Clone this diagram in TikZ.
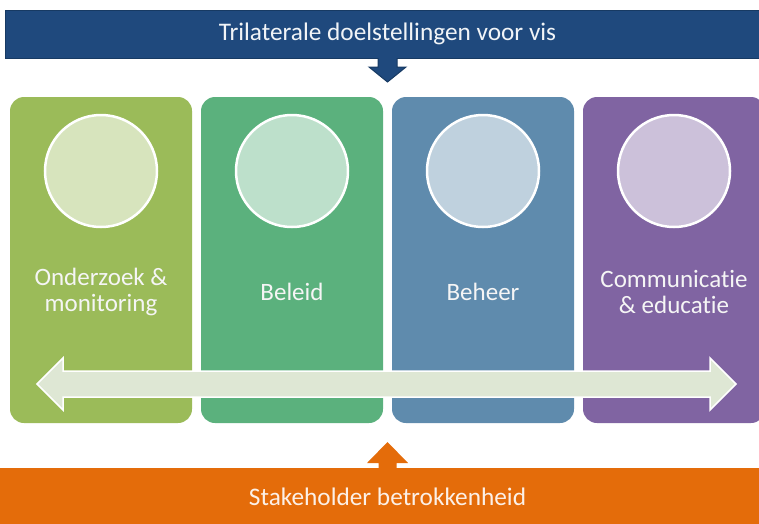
\documentclass[tikz,border=0pt]{standalone}
\usepackage{fontspec}
\setmainfont{Carlito}[Ligatures=NoCommon]
\usetikzlibrary{calc}
\usetikzlibrary{positioning}

\definecolor{visblauw}{HTML}{1F497D}
\definecolor{visrand}{HTML}{173A63}
\definecolor{stakeoranje}{HTML}{E46C0A}
\definecolor{kolom1}{HTML}{9BBB59}
\definecolor{kolom2}{HTML}{5BB17D}
\definecolor{kolom3}{HTML}{5F8BAD}
\definecolor{kolom4}{HTML}{8064A2}
\definecolor{pijlgroen}{HTML}{DEE7D4}

\tikzset{
  banner/.style={inner sep=0, outer sep=0, font=\fontsize{25.3}{30}\selectfont},
  kolom/.style={rounded corners=14, minimum width=182, minimum height=326, inner sep=0, outer sep=0},
  cirkel/.style={circle, draw=white, line width=2.5, minimum size=112, inner sep=0},
  kolomtekst/.style={text=white!96!black, align=center, font=\fontsize{25}{26}\selectfont},
}

\begin{document}
\begin{tikzpicture}[x=1pt, y=-1pt, thick]%
  \useasboundingbox (0,0) rectangle (759,523);
  \node[banner, fill=visblauw, draw=visrand, line width=1, minimum width=765, minimum height=48,
    text=white!94!visblauw] (doel) at (387.5,34) {Trilaterale doelstellingen voor vis};
  \node[banner, fill=stakeoranje, minimum width=785, minimum height=58,
    text=white!90!stakeoranje] (stake) at (387.5,497) {Stakeholder betrokkenheid};
  \foreach \i/\tekst in {1/{Onderzoek \&\\monitoring}, 2/Beleid, 3/Beheer, 4/{Communicatie\\\& educatie}} {
    \node[kolom, fill=kolom\i] (kolom\i) at ({101+191*(\i-1)}, 260) {};
    \node[cirkel, fill=kolom\i!40!white] (cirkel\i) at ($(kolom\i.north)+(0,74)$) {};
    \node[kolomtekst] (tekst\i) at ($(kolom\i.center)+(0,32)$) {\tekst};
  }
  \fill[visblauw]
    ($(doel.south)+(-9.5,-1)$)
    --
    ($(doel.south)+(-9.5,9)$)
    --
    ($(doel.south)+(-18.5,9)$)
    --
    ($(doel.south)+(0,24)$)
    --
    ($(doel.south)+(18.5,9)$)
    --
    ($(doel.south)+(9.5,9)$)
    --
    ($(doel.south)+(9.5,-1)$)
    --
    cycle;
  \draw[visrand, line width=1]
    ($(doel.south)+(-9.5,0)$)
    --
    ($(doel.south)+(-9.5,9)$)
    --
    ($(doel.south)+(-18.5,9)$)
    --
    ($(doel.south)+(0,24)$)
    --
    ($(doel.south)+(18.5,9)$)
    --
    ($(doel.south)+(9.5,9)$)
    --
    ($(doel.south)+(9.5,0)$)
    ;
  \fill[stakeoranje]
    ($(stake.north)+(-9,1)$)
    --
    ($(stake.north)+(-9,-5)$)
    --
    ($(stake.north)+(-20.5,-5)$)
    --
    ($(stake.north)+(0,-26)$)
    --
    ($(stake.north)+(20.5,-5)$)
    --
    ($(stake.north)+(9,-5)$)
    --
    ($(stake.north)+(9,1)$)
    --
    cycle;
  \coordinate (links) at (37,384);
  \coordinate (rechts) at (736,384);
  \filldraw[fill=pijlgroen, draw=white, line width=1.5, line join=miter]
    (links)
    --
    ($(links)+(26,-26)$)
    --
    ($(links)+(26,-13)$)
    --
    ($(rechts)+(-26,-13)$)
    --
    ($(rechts)+(-26,-26)$)
    --
    (rechts)
    --
    ($(rechts)+(-26,26)$)
    --
    ($(rechts)+(-26,13)$)
    --
    ($(links)+(26,13)$)
    --
    ($(links)+(26,26)$)
    --
    cycle;
\end{tikzpicture}
\end{document}
